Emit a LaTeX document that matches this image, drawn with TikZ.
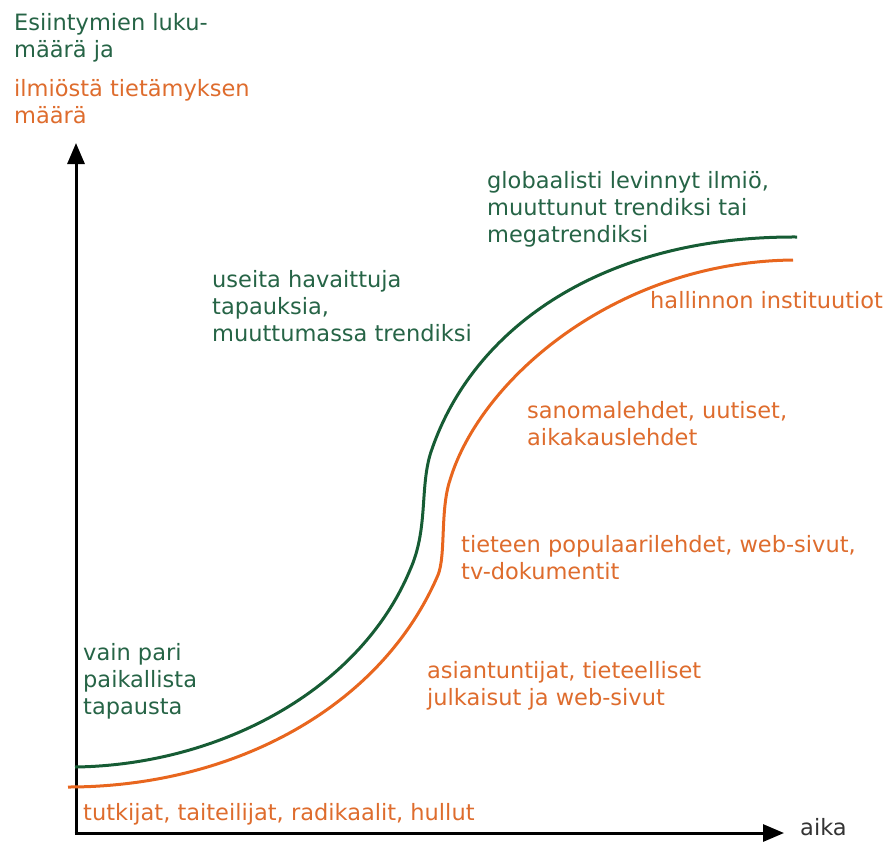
\documentclass[tikz,border=0pt]{standalone}
\usepackage{fontspec}
\setmainfont{DejaVu Sans}
\usepackage{xcolor}
\usetikzlibrary{arrows.meta}
\definecolor{vihr}{RGB}{22,92,52}
\definecolor{vihrteksti}{RGB}{38,100,70}
\definecolor{oranssi}{RGB}{232,102,30}
\definecolor{oranssiteksti}{RGB}{222,108,45}
\tikzset{
  teksti/.style={anchor=base west, align=left, inner sep=0pt,
    font=\fontsize{22.5}{27}\selectfont},
  vihrea/.style={teksti, text=vihrteksti},
  oranssinen/.style={teksti, text=oranssiteksti},
  akseli/.style={line width=3pt, -{Triangle[length=21pt,width=17pt]}},
  kayra/.style={line width=3pt}
}

\begin{document}
\begin{tikzpicture}[x=1pt,y=-1pt]
  \useasboundingbox (0,0) rectangle (891,843);

  % Akselit
  \coordinate (origo) at (76,833);
  \coordinate (ylos) at (76,143);
  \coordinate (oikea) at (784,833);
  \draw[akseli] (origo) -- (ylos);
  \draw[akseli] ([xshift=-1.5pt]origo) -- (oikea);

  % Ilmion esiintymat (vihrea)
  \draw[kayra, vihr] (75,767) .. controls (220,765) and (360,690) .. (410,570)
    .. controls (428,530) and (420,490) .. (430,455)
    .. controls (470,330) and (600,236) .. (797,237);
  % Tietamys ilmiosta (oranssi)
  \draw[kayra, oranssi] (68,787) .. controls (230,787) and (380,710) .. (438,575)
    .. controls (446,555) and (440,510) .. (450,480)
    .. controls (480,380) and (615,262) .. (793,260);

  % Akselien nimet (paikka = viimeisen rivin perusviiva)
  \node[vihrea] (esiintymat) at (14,58) {Esiintymien luku-\\määrä ja};
  \node[oranssinen] (tietamys) at (14,123) {ilmiöstä tietämyksen\\määrä};
  \node[teksti, text=black!80] (aika) at (800,835) {aika};

  % Vaiheet
  \node[vihrea] (pari) at (83,714) {vain pari\\paikallista\\tapausta};
  \node[vihrea] (useita) at (212,341) {useita havaittuja\\tapauksia,\\muuttumassa trendiksi};
  \node[vihrea] (globaali) at (487,242) {globaalisti levinnyt ilmiö,\\muuttunut trendiksi tai\\megatrendiksi};

  \node[oranssinen] (tutkijat) at (83,820) {tutkijat, taiteilijat, radikaalit, hullut};
  \node[oranssinen] (asiantuntijat) at (427,705) {asiantuntijat, tieteelliset\\julkaisut ja web-sivut};
  \node[oranssinen] (tiede) at (461,579) {tieteen populaarilehdet, web-sivut,\\tv-dokumentit};
  \node[oranssinen] (sanomat) at (527,445) {sanomalehdet, uutiset,\\aikakauslehdet};
  \node[oranssinen] (hallinto) at (650,308) {hallinnon instituutiot};
\end{tikzpicture}
\end{document}
